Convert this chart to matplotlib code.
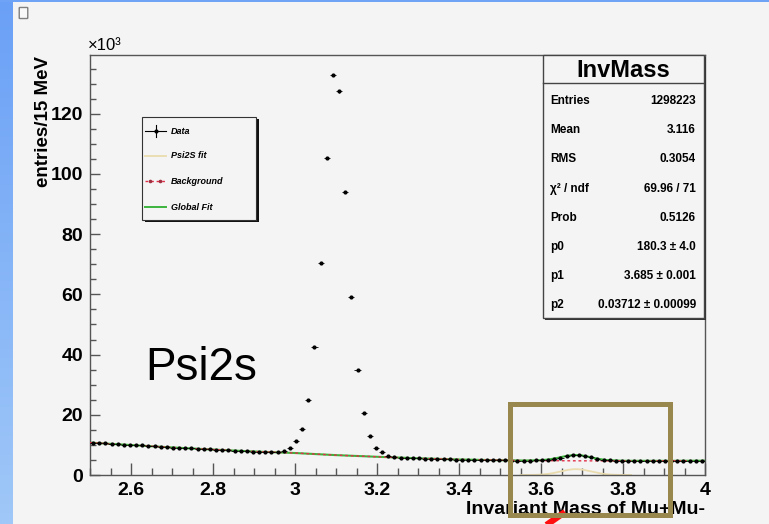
import numpy as np
import matplotlib.pyplot as plt
from matplotlib.patches import Rectangle, FancyBboxPatch
from matplotlib.lines import Line2D
from matplotlib.ticker import MultipleLocator

plt.rcParams['font.family'] = ['Liberation Sans', 'DejaVu Sans']

# invariant mass histogram, 15 MeV bins from 2.5 to 4.0 GeV (entries in 10^3)
bin_lo = 2.5
bin_width = 0.015
counts_k = [
    10.7, 10.6, 10.5, 10.4, 10.3, 10.1, 10.0, 9.95, 9.8, 9.7,
    9.5, 9.35, 9.25, 9.1, 9.05, 8.95, 8.85, 8.75, 8.65, 8.55,
    8.45, 8.35, 8.2, 8.1, 7.95, 7.85, 7.8, 7.7, 7.65, 7.7,
    7.8, 8.1, 9.1, 11.2, 15.2, 24.8, 42.4, 70.3, 105.2, 132.9,
    127.4, 94.0, 59.0, 34.9, 20.6, 13.0, 9.1, 7.5, 6.3, 5.9,
    5.8, 5.7, 5.6, 5.5, 5.45, 5.4, 5.3, 5.25, 5.2, 5.1,
    5.05, 5.0, 5.0, 4.95, 4.9, 4.9, 4.85, 4.85, 4.8, 4.8,
    4.8, 4.8, 4.85, 4.9, 5.1, 5.4, 5.8, 6.3, 6.6, 6.6,
    6.3, 5.9, 5.4, 5.1, 4.9, 4.8, 4.75, 4.7, 4.7, 4.7,
    4.65, 4.7, 4.65, 4.7, 4.7, 4.75, 4.7, 4.75, 4.75, 4.8,
]

# background shape (10^3 entries per bin)
bg_mass = [2.5, 2.6, 2.7, 2.8, 2.9, 3.0, 3.1, 3.2, 3.3, 3.4, 3.5, 3.56,
           3.6, 3.62, 3.64, 3.66, 3.68, 3.70, 3.72, 3.74, 3.76, 3.8, 3.9, 4.0]
bg_k = [10.75, 9.95, 9.15, 8.45, 7.8, 7.3, 6.6, 6.05, 5.55, 5.15, 4.9, 4.8,
        4.76, 4.75, 4.74, 4.73, 4.72, 4.71, 4.7, 4.7, 4.7, 4.7, 4.7, 4.75]

# psi(2S) gaussian fit parameters
fit_p0, fit_p1, fit_p2 = 180.3, 3.685, 0.03712

stat_names = ['Entries', 'Mean', 'RMS', 'χ² / ndf', 'Prob', 'p0', 'p1', 'p2']
stat_values = ['1298223', '3.116', '0.3054', '69.96 / 71', '0.5126',
               '180.3 ± 4.0', '3.685 ± 0.001', '0.03712 ± 0.00099']

legend_labels = ['Data', 'Psi2S fit', 'Background', 'Global Fit']

W, H = 769, 524
fig = plt.figure(figsize=(W / 100, H / 100), dpi=100)
fig.patch.set_facecolor('#f4f4f4')


def fx(px):
    return px / W


def fy(py):
    return 1 - py / H


def psi2s(m):
    m = np.asarray(m)
    amp = fit_p0 / (np.sqrt(2 * np.pi) * fit_p2) / 1000.0
    return amp * np.exp(-0.5 * ((m - fit_p1) / fit_p2) ** 2)


# slide frame: blue strip on the left and top
strip = fig.add_axes([0, 0, fx(13), 1])
strip.imshow(np.linspace(0, 1, 256).reshape(-1, 1), aspect='auto',
             cmap=plt.matplotlib.colors.LinearSegmentedColormap.from_list(
                 'frame', ['#6aa0f6', '#a0c8f8']), extent=[0, 1, 0, 1])
strip.axis('off')
fig.add_artist(Rectangle((0, fy(2)), 1, fy(0) - fy(2), transform=fig.transFigure,
                         color='#6ea3f5', lw=0))
fig.add_artist(FancyBboxPatch((fx(20), fy(18)), fx(7), fy(8) - fy(18),
                              boxstyle='round,pad=0.001', transform=fig.transFigure,
                              fc='#f8f8f8', ec='#808080', lw=1))

ax = fig.add_axes([fx(90), fy(475), fx(705) - fx(90), fy(55) - fy(475)])
ax.set_facecolor('#f4f4f4')

counts = np.array(counts_k)
centers = bin_lo + bin_width * (np.arange(len(counts)) + 0.5)
yerr = np.sqrt(counts * 1000) / 1000

m_fine = np.linspace(3.55, 3.82, 200)
ax.plot(m_fine, psi2s(m_fine), color='#eadcae', lw=1.3, zorder=2)
glob = np.array(bg_k) + psi2s(bg_mass)
ax.plot(bg_mass, glob, color='#3cb43c', lw=1.5, zorder=2)
ax.plot(bg_mass, bg_k, color='#e0304a', lw=1.0, dashes=(2, 2), zorder=3)
ax.errorbar(centers, counts, xerr=bin_width / 2, yerr=yerr, fmt='o', ms=2.0,
            color='black', elinewidth=0.6, capsize=0, zorder=4)

ax.set_xlim(2.5, 4.0)
ax.set_ylim(0, 139.5)
ax.xaxis.set_major_locator(MultipleLocator(0.2))
ax.xaxis.set_minor_locator(MultipleLocator(0.05))
ax.yaxis.set_major_locator(MultipleLocator(20))
ax.yaxis.set_minor_locator(MultipleLocator(5))
ax.xaxis.set_major_formatter(plt.FuncFormatter(lambda v, p: f'{v:g}'))
ax.tick_params(axis='x', which='major', direction='in', length=8.5, width=1,
               color='#555555', labelsize=14, pad=5)
ax.tick_params(axis='x', which='minor', direction='in', length=5, width=1, color='#555555')
ax.tick_params(axis='y', which='major', direction='in', length=7, width=1,
               color='#555555', labelsize=14, pad=5)
ax.tick_params(axis='y', which='minor', direction='in', length=4, width=1, color='#555555')
for lab in ax.get_xticklabels() + ax.get_yticklabels():
    lab.set_fontweight('bold')
for sp in ax.spines.values():
    sp.set_color('#555555')
    sp.set_linewidth(1)

fig.text(fx(88), fy(45), '×10³', fontsize=12, ha='left', va='center')
fig.text(fx(43), fy(56), 'entries/15 MeV', rotation=90, fontsize=13.5,
         fontweight='bold', ha='center', va='top')
fig.text(fx(705), fy(509), 'Invariant Mass of Mu+Mu-', fontsize=14,
         fontweight='bold', ha='right', va='center')

# legend box
lx0, ly0, lx1, ly1 = 142, 117, 256, 220
fig.add_artist(Rectangle((fx(lx0 + 3), fy(ly1 + 2)), fx(lx1) - fx(lx0), fy(ly0) - fy(ly1),
                         transform=fig.transFigure, fc='#111111', lw=0, zorder=5))
fig.add_artist(Rectangle((fx(lx0), fy(ly1)), fx(lx1) - fx(lx0), fy(ly0) - fy(ly1),
                         transform=fig.transFigure, fc='#f4f4f4', ec='#333333', lw=0.8, zorder=6))
leg_rows = [131, 156, 181, 207]
leg_styles = [dict(color='black', lw=0.8),
              dict(color='#eadcae', lw=1.3),
              dict(color='#e0304a', lw=1.0, dashes=(2, 2)),
              dict(color='#3cb43c', lw=1.4)]
for label, row, style in zip(legend_labels, leg_rows, leg_styles):
    fig.add_artist(Line2D([fx(145), fx(166)], [fy(row), fy(row)],
                          transform=fig.transFigure, zorder=7, **style))
    fig.text(fx(171), fy(row), label, fontsize=6.5, fontweight='bold', style='italic',
             ha='left', va='center', zorder=7)
fig.add_artist(Line2D([fx(155.5), fx(155.5)], [fy(leg_rows[0] + 6), fy(leg_rows[0] - 6)],
                      transform=fig.transFigure, color='black', lw=0.8, zorder=7))
fig.add_artist(Line2D([fx(155.5)], [fy(leg_rows[0])], marker='o', ms=2.0, color='black',
                      transform=fig.transFigure, zorder=7))
for row in leg_rows[2:3]:
    fig.add_artist(Line2D([fx(150), fx(160)], [fy(row), fy(row)], ls='none', marker='o',
                          ms=1.6, color='#a03040', transform=fig.transFigure, zorder=7))

# statistics box
sx0, sy0, sx1, sy1 = 543, 55, 704, 318
fig.add_artist(Rectangle((fx(sx0 + 2), fy(sy1 + 2)), fx(sx1) - fx(sx0), fy(sy0) - fy(sy1),
                         transform=fig.transFigure, fc='#333333', lw=0, zorder=5))
fig.add_artist(Rectangle((fx(sx0), fy(sy1)), fx(sx1) - fx(sx0), fy(sy0) - fy(sy1),
                         transform=fig.transFigure, fc='#f4f4f4', ec='#444444', lw=1, zorder=6))
fig.add_artist(Line2D([fx(sx0), fx(sx1)], [fy(83), fy(83)], transform=fig.transFigure,
                      color='#444444', lw=1, zorder=7))
fig.text(fx((sx0 + sx1) / 2), fy(70), 'InvMass', fontsize=17, fontweight='bold',
         ha='center', va='center', zorder=7)
for i, (name, val) in enumerate(zip(stat_names, stat_values)):
    row = 101 + i * 29.2
    fig.text(fx(550), fy(row), name, fontsize=8.5, fontweight='bold', ha='left',
             va='center', zorder=7)
    fig.text(fx(696), fy(row), val, fontsize=8.5, fontweight='bold', ha='right',
             va='center', zorder=7)

fig.text(fx(145), fy(380), 'Psi2s', fontsize=33, ha='left', va='baseline')

# highlight around the psi(2S) peak
fig.add_artist(Line2D([fx(545), fx(565)], [fy(526), fy(512)], transform=fig.transFigure,
                      color='#ff1010', lw=4.5, solid_capstyle='butt', zorder=8))
fig.add_artist(Rectangle((fx(509.5), fy(514.5)), fx(669.5) - fx(509.5), fy(403.5) - fy(514.5),
                         transform=fig.transFigure, fill=False, ec='#98884e', lw=3.6, zorder=9))

fig.savefig('out.png', dpi=100, facecolor=fig.get_facecolor())
